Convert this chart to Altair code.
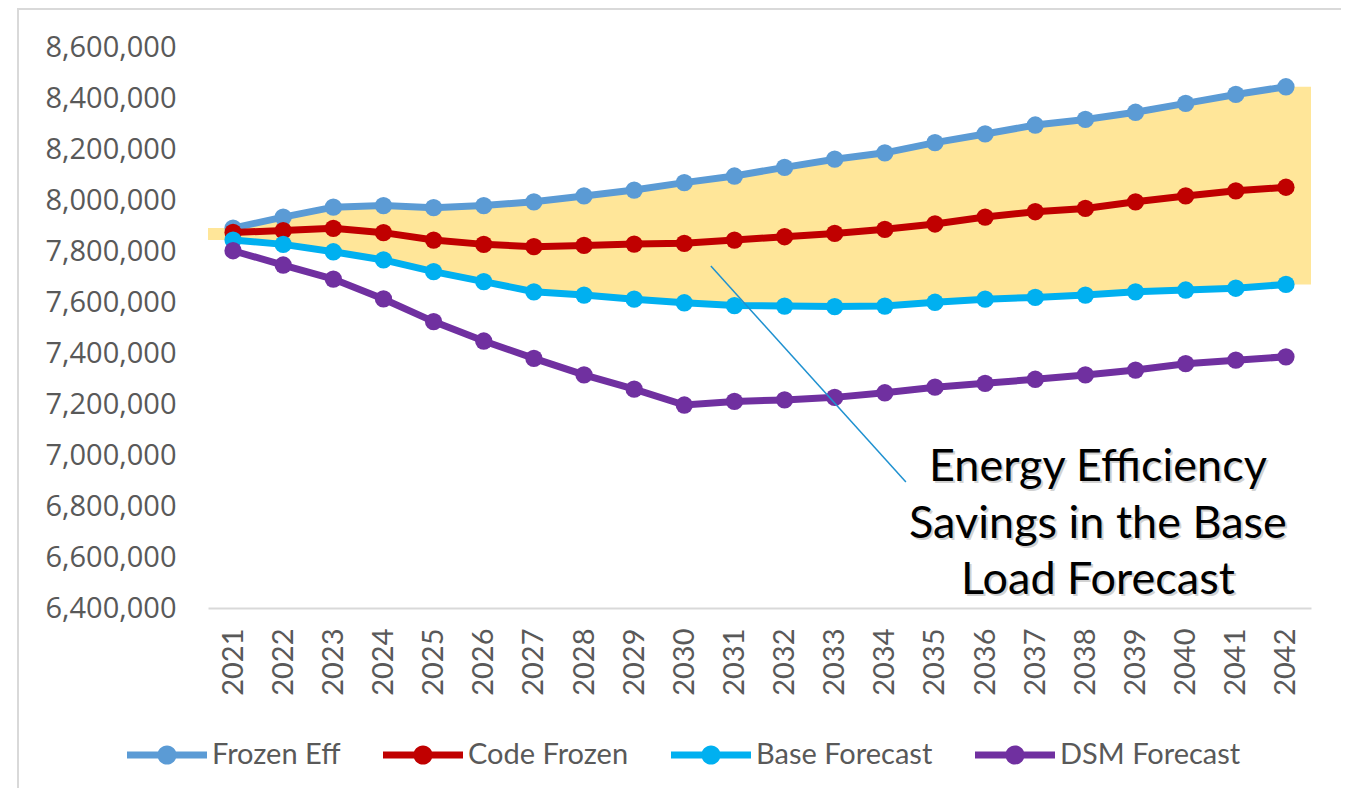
import altair as alt
import pandas as pd

years = list(range(2021, 2043))
frozen_eff = [7890000, 7933000, 7972000, 7978000, 7970000, 7978000, 7993000, 8016000, 8039000, 8068000, 8094000,
              8128000, 8160000, 8185000, 8225000, 8259000, 8294000, 8316000, 8344000, 8379000, 8414000, 8444000]
code_frozen = [7873000, 7880000, 7889000, 7872000, 7843000, 7826000, 7817000, 7822000, 7827000, 7830000, 7843000,
               7856000, 7869000, 7885000, 7906000, 7933000, 7954000, 7967000, 7993000, 8016000, 8036000, 8050000]
base_forecast = [7843000, 7826000, 7797000, 7765000, 7719000, 7680000, 7640000, 7627000, 7611000, 7597000, 7586000,
                 7584000, 7582000, 7584000, 7599000, 7611000, 7618000, 7627000, 7640000, 7647000, 7654000, 7669000]
dsm_forecast = [7801000, 7745000, 7690000, 7612000, 7523000, 7447000, 7379000, 7314000, 7258000, 7196000, 7210000,
                7216000, 7226000, 7244000, 7266000, 7281000, 7297000, 7314000, 7333000, 7358000, 7372000, 7385000]

series_names = ["Frozen Eff", "Code Frozen", "Base Forecast", "DSM Forecast"]
series_colors = ["#5B9BD5", "#C00000", "#00B0F0", "#7030A0"]
series_values = [frozen_eff, code_frozen, base_forecast, dsm_forecast]

y_ticks = list(range(6400000, 8600001, 200000))

ann_text = ["Energy Efficiency", "Savings in the Base", "Load Forecast"]
ann_text_year = [2038.25, 2038.25, 2038.25]
ann_text_value = [6953000, 6729000, 6510000]
ann_line_year = [2030.53, 2034.42]
ann_line_value = [7741000, 6894000]

band_df = pd.DataFrame({
    "year": [2020.5] + years + [2042.5],
    "upper": [frozen_eff[0]] + frozen_eff + [frozen_eff[-1]],
    "lower": [base_forecast[0]] + base_forecast + [base_forecast[-1]],
})

xscale = alt.Scale(domain=[2020.5, 2042.5], nice=False, zero=False)
yscale = alt.Scale(domain=[6400000, 8600000], nice=False, zero=False)

xaxis = alt.Axis(values=years, format="d", labelAngle=270, ticks=False, grid=False,
                 domainColor="#D9D9D9", domainWidth=2, labelFont="Lato", labelFontSize=29,
                 labelColor="#595959", labelPadding=20, title=None)
yaxis = alt.Axis(values=y_ticks, format=",d", ticks=False, grid=False, domain=False,
                 labelFont="Open Sans", labelFontSize=29, labelColor="#595959", labelPadding=32, title=None)

band = alt.Chart(band_df).mark_area(color="#FFE699", opacity=1).encode(
    x=alt.X("year:Q", scale=xscale, axis=xaxis),
    y=alt.Y("upper:Q", scale=yscale, axis=yaxis),
    y2="lower:Q",
)

path = ("M-1,-0.09 L1,-0.09 L1,0.09 L-1,0.09 Z "
        "M0.24,0 A0.24,0.24 0 1,1 -0.24,0 A0.24,0.24 0 1,1 0.24,0 Z")

layers = [band]
for name, col, vals in zip(series_names, series_colors, series_values):
    df = pd.DataFrame({"year": years, "value": vals, "series": name})
    line = alt.Chart(df).mark_line(strokeWidth=7, color=col).encode(
        x=alt.X("year:Q", scale=xscale),
        y=alt.Y("value:Q", scale=yscale),
    )
    pts = alt.Chart(df).mark_point(filled=True, size=300, opacity=1).encode(
        x=alt.X("year:Q", scale=xscale),
        y=alt.Y("value:Q", scale=yscale),
        color=alt.Color("series:N",
                        scale=alt.Scale(domain=series_names, range=series_colors),
                        legend=alt.Legend(orient="none", legendX=-81, legendY=668, direction="horizontal",
                                          columns=4, symbolType=path, symbolSize=6400, symbolStrokeWidth=0,
                                          labelFont="Lato", labelFontSize=29, labelColor="#595959",
                                          labelLimit=400, columnPadding=42, labelOffset=5, title=None)),
    )
    layers += [line, pts]

ann_line_df = pd.DataFrame({"year": [ann_line_year[0]], "value": [ann_line_value[0]],
                            "year2": [ann_line_year[1]], "value2": [ann_line_value[1]]})
ann_line = alt.Chart(ann_line_df).mark_rule(color="#1F91D0", strokeWidth=1.5).encode(
    x=alt.X("year:Q", scale=xscale), x2="year2:Q",
    y=alt.Y("value:Q", scale=yscale), y2="value2:Q",
)

ann_df = pd.DataFrame({"year": ann_text_year, "value": ann_text_value, "text": ann_text})
ann_shadow = alt.Chart(ann_df).mark_text(font="Lato", fontSize=45, color="#7F7F7F", opacity=0.35,
                                         align="center", baseline="middle", dx=2, dy=2).encode(
    x=alt.X("year:Q", scale=xscale), y=alt.Y("value:Q", scale=yscale), text="text:N")
ann = alt.Chart(ann_df).mark_text(font="Lato", fontSize=45, color="#000000",
                                  align="center", baseline="middle").encode(
    x=alt.X("year:Q", scale=xscale), y=alt.Y("value:Q", scale=yscale), text="text:N")

border = alt.Chart(pd.DataFrame({"a": [0]})).mark_rect(fill="transparent", stroke="#D9D9D9", strokeWidth=2).encode(
    x=alt.value(-190), x2=alt.value(1143), y=alt.value(-38), y2=alt.value(800))

layers += [ann_line, ann_shadow, ann, border]

chart = alt.layer(*layers).properties(
    width=1103, height=561,
    background="white",
    autosize=alt.AutoSizeParams(type="none"),
    padding={"left": 200, "top": 39, "right": 30, "bottom": 180},
).configure_view(strokeWidth=0, stroke="transparent")

chart.save("out.html", embed_options={"renderer": "svg", "actions": False})
